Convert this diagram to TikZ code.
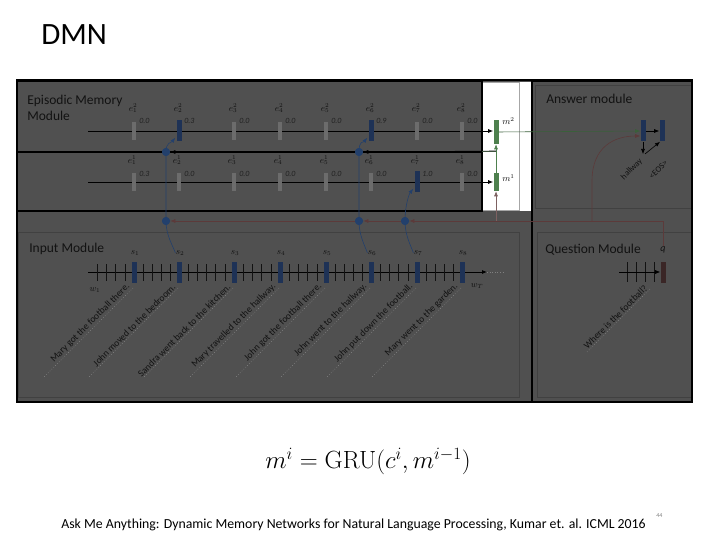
\documentclass[tikz,border=0pt]{standalone}
\usepackage[no-math]{fontspec}
\setmainfont{Carlito}
\usetikzlibrary{arrows.meta}
\definecolor{dim}{HTML}{505050}
\definecolor{ink}{HTML}{121212}
\definecolor{gatecol}{HTML}{6C6C6C}
\definecolor{hotcol}{HTML}{1E3256}
\definecolor{dotcol}{HTML}{23406C}
\definecolor{qcol}{HTML}{5C3A3A}
\definecolor{qbar}{HTML}{3A2626}
\definecolor{mcol}{HTML}{4E804E}
\tikzset{
  gatebar/.style={rectangle, fill=gatecol, inner sep=0pt, minimum width=4pt, minimum height=18pt},
  hotbar/.style={gatebar, fill=hotcol, minimum width=5pt, minimum height=21pt},
  sbar/.style={rectangle, fill=hotcol, inner sep=0pt, minimum width=5pt, minimum height=21pt},
  mbar/.style={rectangle, fill=mcol, inner sep=0pt, minimum width=5pt},
  pick/.style={circle, fill=dotcol, inner sep=0pt, minimum size=8pt},
  modlabel/.style={anchor=north west, align=left, text=ink, inner sep=0pt, font=\fontsize{13.5}{15.5}\selectfont},
  sent/.style={rotate=45, anchor=south east, text=ink, inner sep=1pt, font=\fontsize{9.5}{10}\selectfont},
  lab/.style={text=ink, inner sep=0pt, font=\fontsize{9}{10}\selectfont},
  num/.style={anchor=west, text=ink!75!dim, inner sep=0pt, font=\itshape\fontsize{8}{9}\selectfont},
  uline/.style={dotted, gatecol!80!white},
}
\begin{document}
\begin{tikzpicture}[x=1pt, y=-1pt, line width=0.6pt, >={Latex[length=5pt,width=4pt]}]
  \useasboundingbox (0,0) rectangle (720,540);
  \node[anchor=base west, inner sep=0pt, font=\fontsize{31}{36}\selectfont] (title) at (41,45) {DMN};

  \fill[dim] (17,80) rectangle (692,402);
  \fill[white] (482,82) rectangle (532,211);
  \draw[gray!70, line width=0.5pt] (482,82) rectangle (519,210);
  \draw[ink!80, line width=0.8pt] (18,232) rectangle (519,397);
  \draw[ink!80, line width=0.8pt] (537,232) rectangle (692,397);
  \draw[ink!80, line width=0.8pt] (535,85) rectangle (692,208);
  \draw[black, line width=2.5pt] (17,81) rectangle (482,211);
  \draw[black, line width=2.5pt] (17,152) -- (482,152);
  \draw[black, line width=2.5pt] (532,81) -- (692,81);
  \draw[black, line width=2.5pt] (532,81) -- (532,402);
  \draw[black, line width=1.5pt] (17,80) rectangle (692,402);

  \node[modlabel] (epi) at (27,95) {Episodic Memory\\Module};
  \node[modlabel] (ans) at (546,94) {Answer module};
  \node[modlabel] (inp) at (29,243) {Input Module};
  \node[modlabel] (que) at (545,244) {Question Module};

  \node[mbar, minimum height=24pt] (m2) at (496,132) {};
  \node[mbar, minimum height=18pt] (m1) at (496,182) {};
  \node[lab, anchor=west] (m2lab) at (502,121) {$m^{2}$};
  \node[lab, anchor=west] (m1lab) at (502,178) {$m^{1}$};

  \coordinate (row2in) at (88,131);
  \coordinate (row1in) at (88,182);
  \draw[->, line width=0.8pt] (row2in) -- (row2in -| m2.west);
  \draw[->, line width=0.8pt] (row1in) -- (row1in -| m1.west);

  \foreach \x/\v/\st [count=\i] in {134/0.0/gatebar,179/0.3/hotbar,234/0.0/gatebar,280/0.0/gatebar,326/0.0/gatebar,371/0.9/hotbar,417/0.0/gatebar,462/0.0/gatebar}{
    \node[\st] (g2-\i) at (\x,131) {};
    \node[lab] at (\x-1,108) {$e^{2}_{\i}$};
    \node[num] at (\x+5,121) {\v};
  }
  \foreach \x/\v/\st [count=\i] in {134/0.3/gatebar,179/0.0/gatebar,234/0.0/gatebar,280/0.0/gatebar,326/0.0/gatebar,371/0.0/gatebar,417/1.0/hotbar,462/0.0/gatebar}{
    \node[\st] (g1-\i) at (\x,182) {};
    \node[lab] at (\x-2,160) {$e^{1}_{\i}$};
    \node[num] at (\x+5,174) {\v};
  }

  \draw[->, mcol] (m1.north) -- (m2.south);
  \coordinate (fb) at (496,151);
  \draw[mcol!60!gray] (fb) -- (482,151);

  \coordinate (w1) at (88,272);
  \coordinate (wend) at (487,272);
  \draw[->, line width=0.8pt] (w1) -- (wend);
  \draw[dotted, gray] (wend) -- ++(18,0);
  \foreach \a/\b in {88/134,134/179,179/234,234/280,280/326,326/371,371/417,417/462}{
    \pgfmathtruncatemacro\nt{round((\b-\a)/9)}
    \pgfmathtruncatemacro\mt{\nt-1}
    \foreach \k in {1,...,\mt}
      \draw[ink, line width=0.5pt] ({\a+\k*(\b-\a)/\nt},264) -- ++(0,17);
  }
  \foreach \x/\t [count=\i] in {134/Mary got the football there.,179/John moved to the bedroom.,234/Sandra went back to the kitchen.,280/Mary travelled to the hallway.,326/John got the football there.,371/John went to the hallway.,417/John put down the football.,462/Mary went to the garden.}{
    \node[sbar] (s-\i) at (\x,272) {};
    \node[lab] (sl-\i) at (\x+1,253) {$s_{\i}$};
    \draw[uline] (\x-1,288) -- ++(-90,90);
    \node[sent] at (\x-1,288) {\t};
  }
  \node[lab] (w1lab) at (95,290) {$w_{1}$};
  \node[lab] (wTlab) at (477,286) {$w_{T}$};

  \node[rectangle, fill=qbar, inner sep=0pt, minimum width=5pt, minimum height=21pt] (qv) at (663,272) {};
  \node[lab, font=\itshape\fontsize{10}{11}\selectfont] (ql) at (663,250) {q};
  \foreach \x in {627,636,645,654}
    \draw[ink, line width=0.5pt] (\x,262) -- ++(0,20);
  \coordinate (qin) at (619,272);
  \draw[->] (qin) -- (qv.west);
  \draw[uline] (650,289) -- ++(-64,64);
  \node[sent] (qsent) at (650,289) {Where is the football?};

  \node[sbar] (a1) at (643,131) {};
  \node[sbar] (a2) at (662,131) {};
  \draw[->, mcol!75!black] (m2) -- (a1);
  \draw[->] (a1) -- (a2);
  \coordinate (ahit) at (643,154);
  \draw[->] (a1.south) -- (ahit);
  \draw[->] ([xshift=2pt]ahit) -- ([xshift=-2pt]a2.south);
  \node[sent, anchor=east, font=\fontsize{8.5}{9}\selectfont] (hall) at (642,159) {hallway};
  \node[sent, anchor=east, font=\fontsize{8.5}{9}\selectfont] (eos) at (667,161) {<EOS>};

  \node[pick] (up2) at (166,152) {};
  \node[pick] (up6) at (359,152) {};
  \node[pick] (lo2) at (166,221) {};
  \node[pick] (lo6) at (359,221) {};
  \node[pick] (lo7) at (405,221) {};

  \coordinate (qm) at (496,221);
  \coordinate (qa) at (592,221);
  \draw[qcol, ->] (ql.north) |- (lo7);
  \draw[qcol, ->] (lo7) -- (lo6);
  \draw[qcol, ->] (lo6) -- (lo2);
  \draw[qcol!80!white, ->] (qm) -- (m1.south);
  \draw[qcol, ->] (qa) -- ++(0,-40) .. controls +(0,-35) and +(-25,0) .. ([yshift=-5pt]a1.west);
  \draw[->] (fb) -- (up6);
  \draw[->] (up6) -- (up2);

  \draw[dotcol, ->] (lo2.center) -- (up2.center) .. controls +(0,-10) and +(-4,5) .. ([xshift=-1pt,yshift=4pt]g2-2.south west);
  \draw[dotcol, ->] (lo6.center) -- (up6.center) .. controls +(0,-12) and +(-4,5) .. ([xshift=-1pt,yshift=4pt]g2-6.south west);
  \draw[dotcol, ->] (lo7.center) .. controls +(0,-16) and +(-4,5) .. ([xshift=-1pt,yshift=4pt]g1-7.south west);
  \draw[dotcol] (lo2.center) .. controls +(0,14) and +(-3,-8) .. (sl-2.west);
  \draw[dotcol] (lo6.center) .. controls +(0,14) and +(-3,-8) .. (sl-6.west);
  \draw[dotcol] (lo7.center) .. controls +(0,14) and +(-3,-8) .. (sl-7.west);
  \foreach \d in {up2,up6,lo2,lo6,lo7}
    \node[pick] at (\d) {};

  \node[font=\fontsize{27}{32}\selectfont] (gru) at (368,461) {$m^{i} = \mathrm{GRU}(c^{i}, m^{i-1})$};
  \node[anchor=base west, inner sep=0pt, font=\fontsize{13.8}{16}\selectfont] (cite) at (61,528) {Ask Me Anything: Dynamic Memory Networks for Natural Language Processing, Kumar et. al. ICML 2016};
  \node[anchor=base west, inner sep=0pt, text=gray, font=\fontsize{6}{7}\selectfont] (pnum) at (656,517) {44};
\end{tikzpicture}
\end{document}
